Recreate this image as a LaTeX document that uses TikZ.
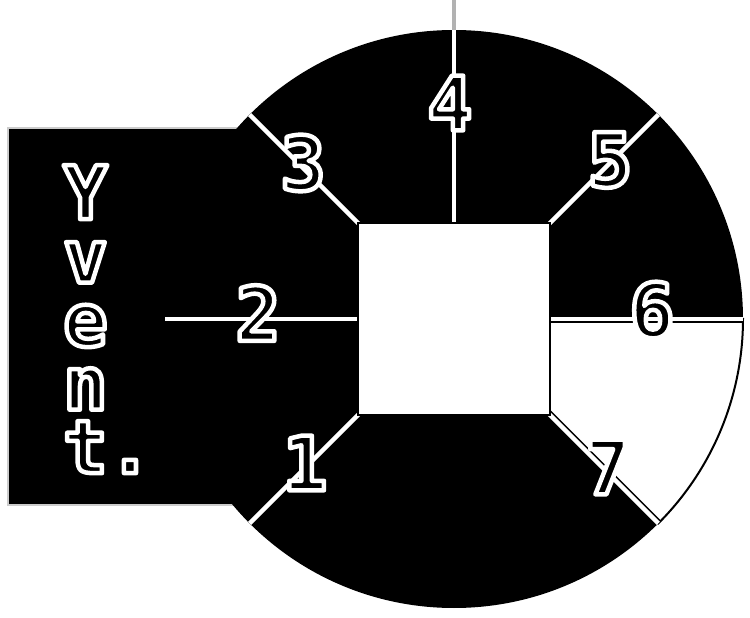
\documentclass[tikz,border=0pt]{standalone}
\usepackage{fontspec}
\setmonofont{DejaVu Sans Mono}
\usetikzlibrary{positioning}

% White outlined glyphs: fill black, stroke white
\newcommand{\halo}[1]{\special{pdf:literal direct 2 Tr 4.5 w 1 j 1 1 1 RG}#1\special{pdf:literal direct 0 Tr 0 0 0 RG}}

\tikzset{
	spoke/.style={draw=black, line width=1.5pt, double=white, double distance=4.5pt},
	digit/.style={inner sep=0pt, text=black, font=\ttfamily\bfseries\fontsize{75}{75}\selectfont},
	word/.style={inner sep=0pt, anchor=north west, align=left, text=black, font=\ttfamily\bfseries\fontsize{74}{63.5}\selectfont},
}

\begin{document}
\begin{tikzpicture}[x=1pt, y=1pt]
	% Define constants
	\def\R{289}  % Radius of the disc
	\def\s{96}   % Half side of the hub
	
	\useasboundingbox (-454,-299) rectangle (296,319);
	
	% Black tab on the left
	\fill[black, draw=gray!40, line width=2pt] (-446,-186) rectangle (-150,191);
	
	% Black disc
	\fill[black] (0,0) circle (\R);
	
	% White sector between 6 and 7
	\filldraw[fill=white, draw=black, line width=2pt] (\s,0) -- (0:\R) arc (0:-45:\R) -- (\s,-\s) -- cycle;
	
	% Spokes from the centre to the rim
	\coordinate (centre) at (0,0);
	\coordinate (top) at (0,319);
	\foreach \k/\a in {1/225, 2/180, 3/135, 4/90, 5/45, 6/0, 7/-45} {
		\coordinate (rim\k) at (\a:\R);
		\draw[spoke] (centre) -- (rim\k);
	}
	\draw[gray!60, line width=4pt] (rim4) -- (top);
	
	% Hub
	\node[draw=black, fill=white, line width=1.5pt, minimum size=192pt, inner sep=0pt] (hub) at (centre) {};
	
	% Numbers on the spokes
	\foreach \k/\x/\y in {1/-149/-144, 2/-196/6, 3/-151/156, 4/-4/216, 5/156/159, 6/198/9, 7/154/-148} {
		\node[digit] (num\k) at (\x,\y) {\halo{\k}};
	}
	
	% Vertical word on the tab
	\node[word] (word) at (-391,154) {\halo{Y}\\\halo{v}\\\halo{e}\\\halo{n}\\\halo{t.}};
	
\end{tikzpicture}
\end{document}
